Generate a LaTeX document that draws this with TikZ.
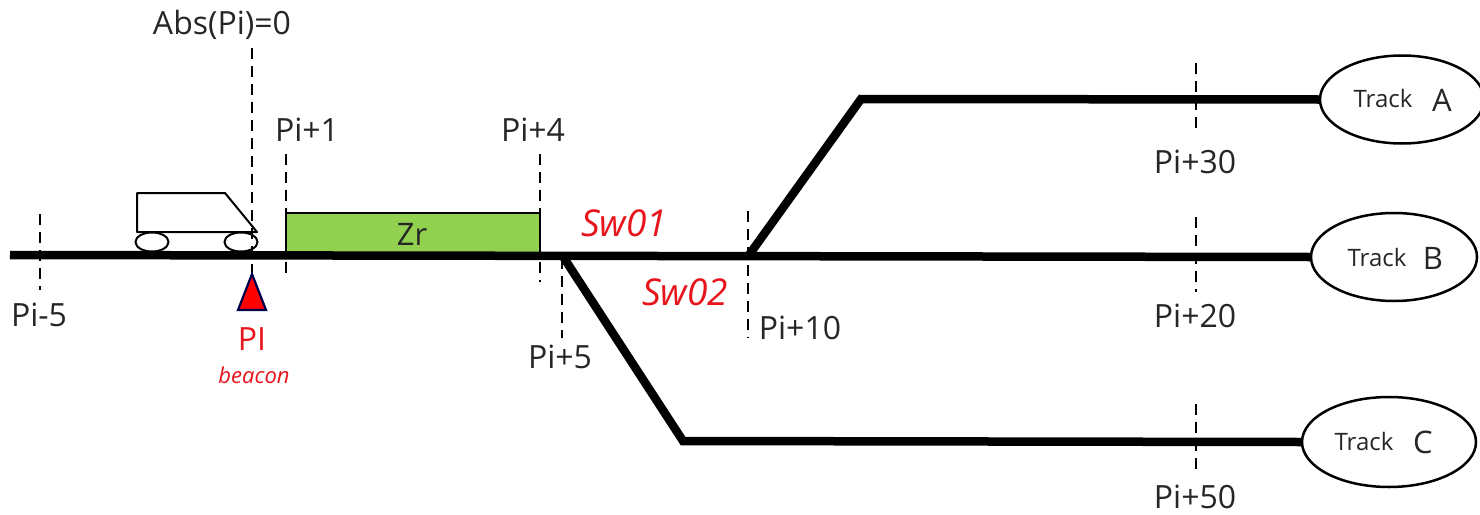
\documentclass[tikz,border=0pt]{standalone}
\usepackage{fontspec}
\setmainfont{Open Sans}
\usetikzlibrary{shapes.geometric}
\definecolor{zg}{HTML}{92D050}
\definecolor{rd}{HTML}{E8141C}
\tikzset{
 track/.style={line width=8.5pt,black},
 tick/.style={draw=black,line width=2pt,dash pattern=on 11pt off 7pt},
 lbl/.style={font=\fontsize{32}{34}\selectfont,text=black!85,inner sep=0pt},
 sw/.style={font=\fontsize{37}{39}\selectfont\itshape,text=rd,inner sep=0pt},
 trk/.style={draw=black,fill=white,ellipse,line width=2.5pt,minimum width=#1,minimum height=88pt,inner sep=0pt},
 wheel/.style={draw=black,fill=white,ellipse,line width=2pt,minimum width=33pt,minimum height=19pt,inner sep=0pt},
 outl/.style={draw=black,line width=2pt,fill=white,line join=round},
 tkname/.style={font=\fontsize{24}{26}\selectfont,inner sep=0pt,text=black!85},
 tkletter/.style={font=\fontsize{31}{33}\selectfont,inner sep=0pt,text=black!85},
}
\begin{document}
\begin{tikzpicture}[x=1pt,y=-1pt]
\useasboundingbox (0,0) rectangle (1480,514);
% ellipses
\begin{scope}
\clip (0,0) rectangle (1480,514);
\node[trk=164pt] (ea) at (1402,99.5) {};
\end{scope}
\node[trk=166pt] (eb) at (1394,257) {};
\node[trk=174pt,minimum height=90pt] (ec) at (1389,442) {};
\node[tkname] (ta) at (1383,98) {Track};
\node[tkletter] (la) at (1442,100) {A};
\node[tkname] (tb) at (1377,257) {Track};
\node[tkletter] (lb) at (1433,258) {B};
\node[tkname] (tc) at (1364,441) {Track};
\node[tkletter] (lc) at (1423,442) {C};
% green
\node[draw=black,fill=zg,line width=2pt,minimum width=254pt,minimum height=42pt,inner sep=0pt] (zr) at (413,233.5) {};
\node[font=\fontsize{31}{33}\selectfont,inner sep=0pt,text=black!85] (zt) at (412,234) {Zr};
% tracks
\coordinate (w) at (10,255);
\coordinate (sw1) at (562,255);
\coordinate (sw2) at (749,255);
\coordinate (ka) at (861,99);
\coordinate (kc) at (683,441);
\draw[track] (w) -- (eb.west);
\draw[track,line join=miter] (sw2) -- (ka) -- (ea.west);
\draw[track,line join=miter] (sw1) -- (kc) -- (ec.west);
% train
\coordinate (c1) at (137,193); \coordinate (c2) at (225,193); \coordinate (c3) at (257,232); \coordinate (c4) at (137,232);
\draw[outl] (c1) -- (c2) -- (c3) -- (c4) -- cycle;
\node[wheel] (wl) at (152,242) {};
\node[wheel] (wr) at (241,242) {};
% ticks
\coordinate (t0a) at (252,48); \coordinate (t0b) at (252,274);
\draw[tick] (t0a) -- (t0b);
\coordinate (t1a) at (40,214); \coordinate (t1b) at (40,290);
\draw[tick] (t1a) -- (t1b);
\coordinate (t2a) at (286,154); \coordinate (t2b) at (286,280);
\draw[tick] (t2a) -- (t2b);
\coordinate (t3a) at (540,154); \coordinate (t3b) at (540,282);
\draw[tick] (t3a) -- (t3b);
\coordinate (t4a) at (562,258); \coordinate (t4b) at (562,338);
\draw[tick] (t4a) -- (t4b);
\coordinate (t5a) at (748,211); \coordinate (t5b) at (748,338);
\draw[tick] (t5a) -- (t5b);
\coordinate (t6a) at (1196,63); \coordinate (t6b) at (1196,134);
\draw[tick] (t6a) -- (t6b);
\coordinate (t7a) at (1196,217); \coordinate (t7b) at (1196,292);
\draw[tick] (t7a) -- (t7b);
\coordinate (t8a) at (1196,404); \coordinate (t8b) at (1196,472);
\draw[tick] (t8a) -- (t8b);
% beacon
\coordinate (ba) at (252,274); \coordinate (bl) at (238,310); \coordinate (br) at (266,310);
\draw[draw=black!70!blue,fill=red,line width=2.2pt,line join=miter] (ba) -- (bl) -- (br) -- cycle;
% labels
\node[lbl] (n0) at (222,25) {Abs(Pi)=0};
\node[lbl] (n1) at (307,130) {Pi+1};
\node[lbl] (n2) at (533,130) {Pi+4};
\node[lbl] (n3) at (39,315) {Pi-5};
\node[lbl] (n4) at (560,357) {Pi+5};
\node[lbl] (n5) at (800,328) {Pi+10};
\node[lbl] (n6) at (1195,162) {Pi+30};
\node[lbl] (n7) at (1195,316) {Pi+20};
\node[lbl] (n8) at (1195,497) {Pi+50};
\node[sw] (s1) at (624,223) {Sw01};
\node[sw] (s2) at (685,292) {Sw02};
\node[font=\fontsize{32}{34}\selectfont,text=rd,inner sep=0pt] (p) at (252,339) {PI};
\node[font=\fontsize{22}{24}\selectfont\itshape,text=rd,inner sep=0pt] (b) at (254,375) {beacon};
\end{tikzpicture}
\end{document}
